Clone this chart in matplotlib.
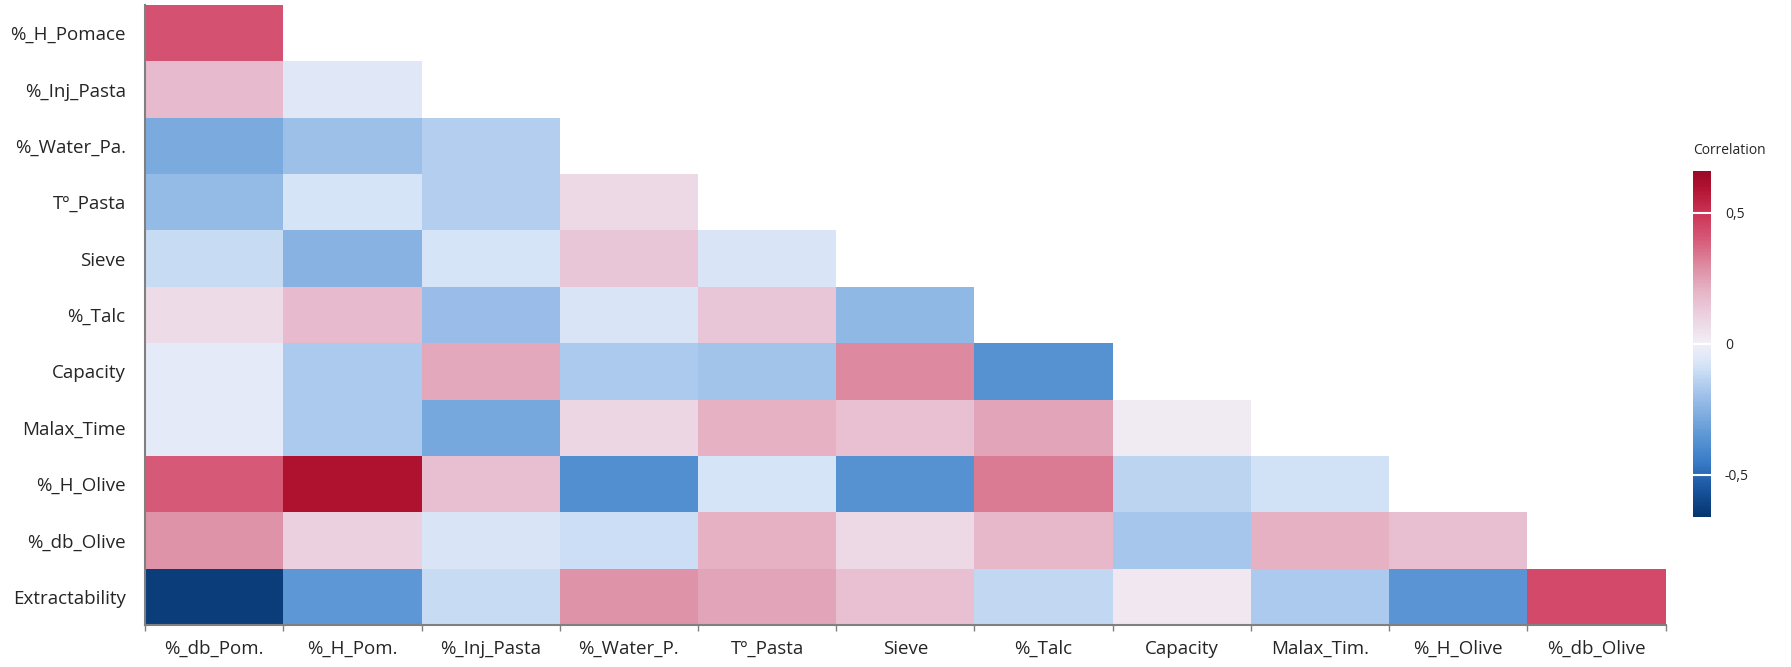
import matplotlib.pyplot as plt
import numpy as np
from matplotlib.colors import LinearSegmentedColormap, Normalize

plt.rcParams['font.family'] = ['Open Sans', 'DejaVu Sans']

# row / column labels
rows = ["%_H_Pomace", "%_Inj_Pasta", "%_Water_Pa.", "Tº_Pasta", "Sieve", "%_Talc",
        "Capacity", "Malax_Time", "%_H_Olive", "%_db_Olive", "Extractability"]
cols = ["%_db_Pom.", "%_H_Pom.", "%_Inj_Pasta", "%_Water_P.", "Tº_Pasta", "Sieve",
        "%_Talc", "Capacity", "Malax_Tim.", "%_H_Olive", "%_db_Olive"]

# lower triangle correlation values (row i has i+1 values)
r_h_pomace = [0.42]
r_inj_pasta = [0.18, -0.05]
r_water_pa = [-0.28, -0.20, -0.15]
r_t_pasta = [-0.22, -0.08, -0.15, 0.08]
r_sieve = [-0.11, -0.25, -0.08, 0.14, -0.07]
r_talc = [0.07, 0.18, -0.21, -0.07, 0.14, -0.23]
r_capacity = [-0.04, -0.17, 0.23, -0.17, -0.19, 0.30, -0.37]
r_malax = [-0.04, -0.17, -0.29, 0.09, 0.21, 0.16, 0.24, 0.02]
r_h_olive = [0.40, 0.60, 0.17, -0.38, -0.08, -0.37, 0.33, -0.13, -0.09]
r_db_olive = [0.28, 0.11, -0.07, -0.10, 0.21, 0.08, 0.19, -0.18, 0.21, 0.17]
r_extract = [-0.63, -0.35, -0.11, 0.28, 0.24, 0.16, -0.12, 0.03, -0.17, -0.36, 0.44]

all_rows = [r_h_pomace, r_inj_pasta, r_water_pa, r_t_pasta, r_sieve, r_talc,
            r_capacity, r_malax, r_h_olive, r_db_olive, r_extract]

n = len(rows)
mat = np.full((n, n), np.nan)
for i, vals in enumerate(all_rows):
    mat[i, :len(vals)] = vals
mat = np.ma.masked_invalid(mat)

vmin, vmax = -0.66, 0.66
anchors = [(-0.66, "#06356f"), (-0.55, "#1a56a0"), (-0.45, "#3a7cc8"), (-0.35, "#5d97d5"),
           (-0.2, "#9dc0e9"), (-0.08, "#d6e4f7"), (0.0, "#f1eff7"), (0.1, "#ecd3e2"),
           (0.2, "#e6b5c7"), (0.3, "#dd8ba1"), (0.4, "#d65a78"), (0.5, "#cc3356"),
           (0.6, "#b0122f"), (0.66, "#9a0a27")]
cmap = LinearSegmentedColormap.from_list(
    "corr", [((v - vmin) / (vmax - vmin), c) for v, c in anchors])

fig = plt.figure(figsize=(17.91, 6.67), dpi=100)
ax = fig.add_axes([0.081, 0.063, 0.849, 0.9295])
mesh = ax.pcolormesh(np.arange(n + 1), np.arange(n + 1), mat, cmap=cmap,
                     norm=Normalize(vmin, vmax), edgecolors='none')
ax.set_xlim(0, n)
ax.set_ylim(n, 0)

ax.set_xticks(np.arange(n) + 0.5)
ax.set_xticklabels(cols, fontsize=13.5, color='#252525')
ax.set_yticks(np.arange(n) + 0.5)
ax.set_yticklabels(rows, fontsize=13.5, color='#252525')
ax.tick_params(axis='x', length=0, pad=11)
ax.tick_params(axis='y', length=0, pad=14)
ax.set_xticks(np.arange(n + 1), minor=True)
ax.tick_params(axis='x', which='minor', length=4, color='#808080', width=1)

for s in ['top', 'right']:
    ax.spines[s].set_visible(False)
for s in ['bottom', 'left']:
    ax.spines[s].set_color('#808080')
    ax.spines[s].set_linewidth(1.5)

cax = fig.add_axes([0.9453, 0.225, 0.0100, 0.519])
cb = fig.colorbar(mesh, cax=cax, ticks=[-0.5, 0, 0.5])
cb.ax.set_yticklabels(["-0,5", "0", "0,5"], fontsize=10, color='#252525')
cb.ax.tick_params(direction='in', length=18, width=1.5, color='white', pad=10)
cb.outline.set_visible(False)
fig.text(0.9453, 0.775, "Correlation", fontsize=10, color='#252525',
         ha='left', va='center')

fig.savefig("out.png", dpi=100, facecolor='white')
